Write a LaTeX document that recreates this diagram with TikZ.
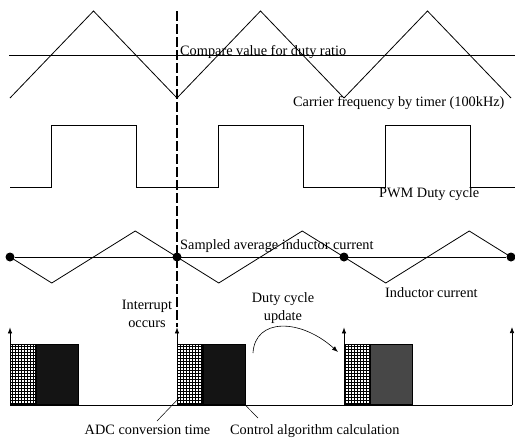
\documentclass[tikz,border=0pt]{standalone}
\usepackage{fontspec}
\setmainfont{Liberation Serif}
\usetikzlibrary{arrows.meta,patterns,calc}

\begin{document}
\begin{tikzpicture}[x=1pt,y=-1pt,>={Latex[length=6pt,width=4.5pt]},
  wave/.style={line width=0.8pt},
  lbl/.style={inner sep=0pt,anchor=base west,font=\fontsize{14.3}{18}\selectfont},
  adcbox/.style={draw,line width=0.6pt,pattern=grid,minimum width=25pt,minimum height=60pt,inner sep=0pt,anchor=south west},
  calcbox/.style={draw,line width=0.6pt,fill=black!92,minimum width=42pt,minimum height=60pt,inner sep=0pt,anchor=south west},
  sample/.style={circle,fill=black,inner sep=0pt,minimum size=9pt},
  irq/.style={->,line width=0.7pt},
  leader/.style={line width=0.5pt}]
  \useasboundingbox (0,0) rectangle (515,439);

  % carrier and compare value
  \foreach \i in {0,1,2}
    \draw[wave] (10+167*\i,98) -- ++(83.5,-87) -- ++(83.5,87);
  \draw[wave] (9,55) -- (515,55);
  \node[lbl] (cmp)  at (180,55)  {Compare value for duty ratio};
  \node[lbl] (carr) at (293,106) {Carrier frequency by timer (100kHz)};

  % PWM output
  \draw[wave] (10,187) -- (51,187) -- (51,125) -- (136,125) -- (136,187)
    -- (218,187) -- (218,125) -- (303,125) -- (303,187)
    -- (385,187) -- (385,125) -- (470,125) -- (470,187) -- (515,187);
  \node[lbl] (pwm) at (379,197) {PWM Duty cycle};

  % inductor current and samples
  \draw[wave] (10,257) -- (51.75,283) -- (135.25,231) -- (218.75,283)
    -- (302.25,231) -- (385.75,283) -- (469.25,231) -- (511,257);
  \foreach \n/\x in {0/10,1/177,2/344,3/511}
    \node[sample] (s\n) at (\x,257) {};
  \draw[wave] (s0) -- (s3);
  \node[lbl] (avg) at (180,249) {Sampled average inductor current};
  \node[lbl] (ind) at (385,297) {Inductor current};

  % interrupt routine
  \coordinate (last) at (512,405);
  \foreach \i/\x in {1/10,2/177,3/344} {
    \node[adcbox] (adc\i) at (\x,405) {};
    \node[calcbox] (calc\i) at (adc\i.south east) {};
    \draw[irq] (adc\i.north west) -- ++(0,-17) coordinate (tip\i);
  }
  \node[calcbox,fill=black!72] at (adc3.south east) {};
  \draw[wave] (adc1.south west) -- (last);
  \draw[irq] (last) -- ++(0,-78);

  \coordinate (dtop) at (177,11);
  \draw[line width=1.8pt,dash pattern=on 9.5pt off 3.5pt] (dtop) -- (tip2);

  \node[lbl,anchor=base,align=center] (irql) at (147,327) {Interrupt\\occurs};
  \node[lbl,anchor=base,align=center] (updl) at (283,320) {Duty cycle\\update};
  \coordinate (updfrom) at (253,353);
  \coordinate (updto) at (338,352);
  \draw[->,line width=0.6pt] (updfrom) .. controls (255,318) and (300,318) .. (updto);

  \node[lbl,anchor=base] (adcl) at (147.5,434) {ADC conversion time};
  \node[lbl] (calcl) at (230,434) {Control algorithm calculation};
  \coordinate (adcfoot) at (157,421);
  \coordinate (calcfoot) at (258,418);
  \draw[leader] (adcfoot) -- ($(adc2.south west)+(2,-7)$);
  \draw[leader] (calcfoot) -- (calc2.south east);
\end{tikzpicture}
\end{document}
